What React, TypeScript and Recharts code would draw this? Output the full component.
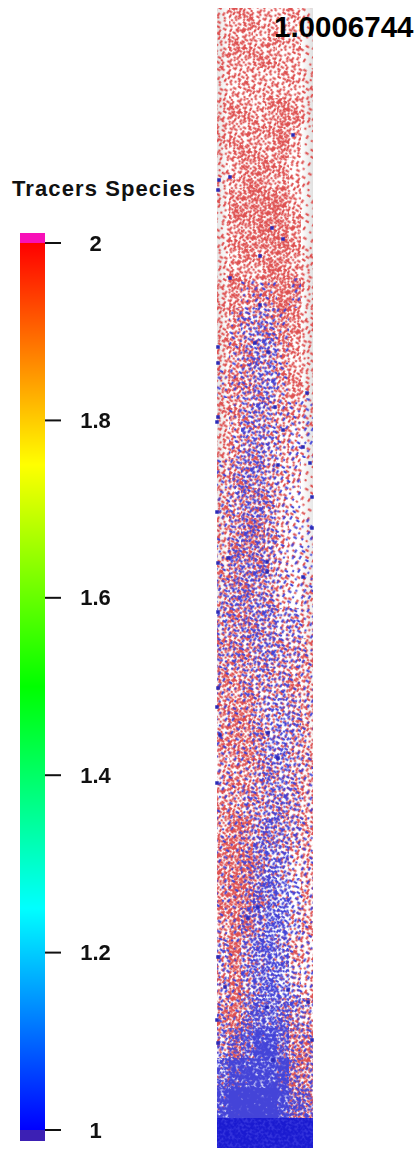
import React from 'react';
import { ScatterChart, Scatter, XAxis, YAxis, ReferenceArea } from 'recharts';

// colour bar
const tickValues = [1, 1.2, 1.4, 1.6, 1.8, 2];
const colourStopValues = [2, 1.75, 1.5, 1.25, 1];
const colourStopColours = ['#ff0000', '#ffff00', '#00ff00', '#00ffff', '#0000ff'];

// The tracers are too many and too blurred to read one by one, so the cloud is
// stored as an estimated density (0-9) per cell: 38 rows of 30px, 8 columns of 12px.
const redDensity = [
  [2, 4, 4, 3, 3, 3, 3, 1],
  [3, 4, 4, 4, 4, 3, 3, 1],
  [2, 3, 3, 3, 3, 3, 3, 2],
  [3, 4, 4, 3, 4, 6, 4, 2],
  [3, 4, 4, 4, 4, 5, 3, 1],
  [2, 3, 5, 5, 4, 4, 2, 1],
  [2, 5, 5, 6, 6, 5, 3, 1],
  [2, 4, 5, 5, 6, 6, 4, 1],
  [2, 4, 4, 4, 5, 5, 4, 2],
  [3, 5, 4, 4, 5, 6, 5, 2],
  [3, 4, 3, 3, 4, 5, 5, 2],
  [3, 4, 4, 3, 3, 4, 3, 2],
  [3, 4, 4, 3, 2, 4, 4, 2],
  [3, 4, 3, 3, 3, 3, 3, 2],
  [3, 3, 3, 3, 2, 3, 2, 1],
  [3, 4, 4, 3, 3, 2, 2, 1],
  [3, 3, 4, 4, 3, 2, 1, 1],
  [3, 4, 5, 5, 3, 2, 1, 1],
  [3, 4, 4, 4, 3, 2, 1, 1],
  [3, 4, 4, 3, 3, 2, 1, 2],
  [3, 4, 4, 3, 3, 2, 2, 2],
  [4, 4, 4, 3, 3, 3, 3, 3],
  [4, 4, 4, 3, 3, 3, 4, 3],
  [4, 5, 5, 3, 2, 2, 3, 3],
  [4, 5, 5, 4, 2, 2, 3, 3],
  [3, 4, 4, 4, 3, 2, 3, 3],
  [4, 4, 4, 3, 3, 3, 3, 3],
  [4, 6, 5, 3, 3, 3, 3, 3],
  [5, 6, 6, 4, 2, 2, 2, 3],
  [5, 6, 6, 4, 2, 1, 1, 3],
  [4, 6, 5, 3, 1, 1, 2, 3],
  [3, 6, 3, 2, 1, 2, 3, 2],
  [3, 6, 3, 2, 1, 1, 2, 2],
  [4, 6, 4, 2, 1, 3, 3, 3],
  [3, 6, 3, 1, 0, 3, 5, 5],
  [2, 3, 1, 0, 0, 3, 5, 5],
  [1, 1, 0, 0, 0, 1, 5, 4],
  [0, 0, 0, 0, 0, 0, 0, 0],
];
const blueDensity = [
  [0, 0, 0, 0, 0, 0, 0, 0],
  [0, 0, 0, 0, 0, 0, 0, 0],
  [0, 0, 0, 0, 0, 0, 0, 0],
  [0, 0, 0, 0, 0, 0, 0, 0],
  [0, 0, 0, 0, 0, 0, 0, 0],
  [0, 0, 0, 0, 0, 0, 0, 0],
  [0, 0, 0, 0, 0, 0, 0, 0],
  [0, 0, 0, 0, 0, 0, 0, 0],
  [0, 0, 0, 0, 0, 0, 0, 0],
  [0, 0, 1, 1, 1, 0, 1, 0],
  [0, 1, 2, 3, 2, 1, 0, 0],
  [0, 1, 2, 3, 3, 1, 0, 0],
  [1, 1, 2, 3, 3, 1, 0, 0],
  [0, 1, 2, 3, 2, 1, 1, 1],
  [0, 1, 3, 3, 2, 1, 1, 1],
  [1, 2, 3, 3, 2, 1, 1, 0],
  [1, 2, 3, 3, 2, 1, 1, 0],
  [1, 2, 3, 3, 2, 1, 1, 1],
  [1, 3, 3, 3, 2, 1, 1, 1],
  [2, 3, 3, 3, 2, 1, 1, 1],
  [2, 2, 3, 3, 3, 2, 2, 1],
  [2, 2, 2, 3, 3, 2, 2, 1],
  [1, 1, 2, 2, 2, 2, 1, 1],
  [1, 1, 1, 2, 2, 3, 2, 1],
  [1, 1, 1, 2, 3, 3, 2, 1],
  [1, 1, 1, 2, 3, 3, 2, 1],
  [1, 1, 2, 2, 3, 3, 2, 1],
  [1, 1, 2, 3, 4, 3, 2, 1],
  [1, 1, 2, 4, 4, 3, 1, 1],
  [1, 1, 2, 4, 5, 4, 2, 1],
  [1, 1, 3, 4, 5, 4, 2, 1],
  [2, 1, 3, 5, 6, 4, 1, 1],
  [2, 1, 3, 5, 6, 4, 2, 1],
  [2, 1, 4, 6, 6, 5, 3, 2],
  [3, 4, 6, 7, 7, 6, 2, 2],
  [6, 7, 7, 7, 7, 7, 3, 2],
  [7, 8, 8, 8, 8, 7, 5, 4],
  [9, 9, 9, 9, 9, 9, 9, 9],
];

// single tracers that stand out from the cloud, read as [x, y] in picture pixels
const blueSpecks = [
  [293, 135], [230, 177], [219, 180], [218, 190], [272, 228], [283, 239], [260, 256], [230, 278],
  [260, 305], [255, 343], [218, 347], [268, 352], [218, 363], [307, 393], [275, 407], [218, 417],
  [217, 422], [283, 430], [303, 447], [310, 463], [278, 465], [312, 497], [217, 512], [312, 528],
  [228, 558], [267, 562], [218, 563], [267, 572], [303, 577], [218, 612], [218, 688], [217, 707],
  [268, 733], [220, 735], [278, 758], [217, 783], [258, 907], [248, 918], [218, 957], [225, 987],
  [288, 990], [308, 1002], [267, 1007], [217, 1020], [312, 1040], [218, 1043], [273, 1060],
];

// dot layout of the stipple tile, six groups of 16 that thicken the texture
const stippleDots = [
  [2, 3], [15, 1], [26, 5], [39, 2], [5, 14], [17, 16], [30, 13], [42, 17], [1, 27], [13, 29], [27, 25], [37, 28], [7, 39], [20, 42], [31, 38], [44, 41],
  [8, 7], [21, 9], [33, 6], [46, 10], [11, 20], [24, 19], [35, 22], [47, 23], [6, 32], [18, 34], [29, 31], [41, 34], [3, 45], [14, 46], [26, 44], [38, 47],
  [12, 4], [23, 2], [35, 0], [45, 5], [0, 9], [14, 11], [28, 9], [39, 11], [9, 25], [21, 24], [32, 27], [44, 29], [10, 37], [24, 36], [35, 40], [47, 36],
  [5, 0], [18, 5], [30, 2], [42, 7], [4, 20], [19, 12], [33, 16], [45, 14], [16, 22], [26, 30], [38, 22], [2, 36], [12, 43], [22, 47], [33, 45], [43, 45],
  [9, 12], [24, 13], [37, 8], [47, 1], [1, 18], [13, 25], [29, 20], [41, 24], [7, 28], [20, 30], [35, 33], [46, 32], [5, 42], [17, 39], [28, 41], [40, 39],
  [10, 1], [21, 5], [32, 10], [43, 1], [7, 17], [20, 15], [27, 16], [38, 15], [3, 24], [23, 27], [34, 25], [47, 18], [14, 33], [29, 35], [42, 37], [0, 41],
];

const WIDTH = 415;
const HEIGHT = 1149;
const TILE = 48;
const COL_W = 12;
const ROW_H = 30;
const STRIP_LEFT = 217;
const STRIP_RIGHT = 313;
const STRIP_TOP = 8;
const STRIP_BOTTOM = 1148;
const FONT = '"Liberation Sans", Arial, sans-serif';

const RED = '#de5050';
const BLUE = '#4444d8';

const toCells = (rows: number[][]) =>
  rows.flatMap((row, r) =>
    row.map((level, c) => ({
      x: STRIP_LEFT + (c + 0.5) * COL_W,
      y: STRIP_TOP + (r + 0.5) * ROW_H,
      level,
    })),
  ).filter((cell) => cell.level > 0);

const redCells = toCells(redDensity);
const blueCells = toCells(blueDensity);
const speckPoints = blueSpecks.map(([x, y]) => ({ x, y }));
const tickPoints = tickValues.map((value) => ({ x: 0.5, value }));

const levelDots = (level: number) => stippleDots.slice(0, Math.min(level, 6) * 16);
const levelSize = (level: number, dot: number) => {
  if (level <= 6) return dot;
  if (level === 7) return 4.6;
  if (level === 8) return 6.2;
  return 3.6;
};
// dots wrap round the tile edge so no seam shows between tiles
const WRAPS = [[0, 0], [-TILE, 0], [0, -TILE], [-TILE, -TILE]];

const StipplePattern = ({ id, level, colour, angle, dot }: { id: string; level: number; colour: string; angle: number; dot: number }) => {
  const size = levelSize(level, dot);
  return (
    <pattern id={id} width={TILE} height={TILE} patternUnits="userSpaceOnUse" patternTransform={`rotate(${angle}) scale(0.6)`}>
      {WRAPS.map(([dx, dy]) =>
        levelDots(level).map(([x, y], i) => (
          <rect
            key={`${dx}-${dy}-${i}`}
            x={x + dx}
            y={y + dy}
            width={i % 3 === 0 ? size * 1.8 : size}
            height={i % 3 === 1 ? size * 1.8 : size}
            fill={level === 9 ? '#1a1ad0' : colour}
          />
        )),
      )}
    </pattern>
  );
};

const LEVELS = [1, 2, 3, 4, 5, 6, 7, 8, 9];

const cellShape = (prefix: string) => (props: any) => {
  const x = props.cx - COL_W / 2;
  const y = props.cy - ROW_H / 2;
  return (
    <g>
      {props.payload.level === 9 && <rect x={x} y={y} width={COL_W} height={ROW_H} fill="#3434dc" />}
      <rect x={x} y={y} width={COL_W} height={ROW_H} fill={`url(#${prefix}-${props.payload.level})`} />
    </g>
  );
};

const speckShape = (props: any) => (
  <rect x={props.cx - 1.75} y={props.cy - 1.75} width={3.5} height={3.5} fill="#2a2ab8" />
);

const TickLabel = ({ y, payload }: any) => (
  <text x={95.5} y={y + 7.5} textAnchor="middle" fontFamily={FONT} fontSize={22} fontWeight="bold" fill="#111">
    {String(payload.value)}
  </text>
);

const ColourBar = () => (
  <ScatterChart width={200} height={HEIGHT} margin={{ top: 233, right: 0, bottom: 8, left: 20 }}>
    <defs>
      <linearGradient id="rainbow" x1="0" y1="0" x2="0" y2="1">
        {colourStopValues.map((v, i) => (
          <stop key={v} offset={`${(2 - v) * 100}%`} stopColor={colourStopColours[i]} />
        ))}
      </linearGradient>
    </defs>
    <XAxis type="number" dataKey="x" domain={[0, 1]} hide />
    <YAxis
      type="number"
      dataKey="value"
      orientation="right"
      width={155}
      domain={[0.9876, 2.0113]}
      ticks={tickValues}
      interval={0}
      axisLine={false}
      tickSize={16}
      tickLine={{ stroke: '#111', strokeWidth: 2 }}
      tick={<TickLabel />}
    />
    <ReferenceArea x1={0} x2={1} y1={1} y2={2} fill="url(#rainbow)" fillOpacity={1} stroke="none" />
    <ReferenceArea x1={0} x2={1} y1={2} y2={2.0113} fill="#f810b8" fillOpacity={1} stroke="none" />
    <ReferenceArea x1={0} x2={1} y1={0.9876} y2={1} fill="#3c20b4" fillOpacity={1} stroke="none" />
    <Scatter data={tickPoints} shape={() => <g />} isAnimationActive={false} />
  </ScatterChart>
);

const TracerStrip = () => (
  <ScatterChart
    width={WIDTH}
    height={HEIGHT}
    margin={{ top: STRIP_TOP, right: WIDTH - STRIP_RIGHT, bottom: HEIGHT - STRIP_BOTTOM, left: STRIP_LEFT }}
  >
    <defs>
      <linearGradient id="wall" x1="0" y1="0" x2="1" y2="0">
        <stop offset="0%" stopColor="#e6e6e6" />
        <stop offset="12%" stopColor="#ffffff" />
        <stop offset="88%" stopColor="#ffffff" />
        <stop offset="100%" stopColor="#e0e0e0" />
      </linearGradient>
      <linearGradient id="wallFade" x1="0" y1="0" x2="0" y2="1">
        <stop offset="0%" stopColor="#ffffff" stopOpacity={0} />
        <stop offset="60%" stopColor="#ffffff" stopOpacity={1} />
      </linearGradient>
      {LEVELS.map((level) => (
        <StipplePattern key={`r${level}`} id={`red-${level}`} level={level} colour={RED} angle={31} dot={3.5} />
      ))}
      {LEVELS.map((level) => (
        <StipplePattern key={`b${level}`} id={`blue-${level}`} level={level} colour={BLUE} angle={-58} dot={3.4} />
      ))}
    </defs>
    <XAxis type="number" dataKey="x" domain={[STRIP_LEFT, STRIP_RIGHT]} hide />
    <YAxis type="number" dataKey="y" domain={[STRIP_TOP, STRIP_BOTTOM]} reversed hide />
    <ReferenceArea x1={STRIP_LEFT} x2={STRIP_RIGHT} y1={STRIP_TOP} y2={STRIP_BOTTOM} fill="url(#wall)" fillOpacity={1} stroke="none" />
    <ReferenceArea x1={STRIP_LEFT} x2={STRIP_RIGHT} y1={400} y2={STRIP_BOTTOM} fill="url(#wallFade)" fillOpacity={1} stroke="none" />
    <Scatter data={redCells} shape={cellShape('red')} isAnimationActive={false} />
    <Scatter data={blueCells} shape={cellShape('blue')} isAnimationActive={false} />
    <Scatter data={speckPoints} shape={speckShape} isAnimationActive={false} />
  </ScatterChart>
);

const App = () => (
  <div style={{ position: 'absolute', left: 0, top: 0, width: WIDTH, height: HEIGHT, background: '#fff', overflow: 'hidden' }}>
    <div style={{ position: 'absolute', left: 0, top: 0, filter: 'blur(0.3px)' }}>
      <TracerStrip />
    </div>
    <div style={{ position: 'absolute', left: 0, top: 0, filter: 'blur(0.3px)' }}>
      <ColourBar />
    </div>
    <div style={{ position: 'absolute', left: 12, top: 176, fontFamily: FONT, fontWeight: 'bold', fontSize: 22, letterSpacing: 1.1, color: '#111', whiteSpace: 'nowrap' }}>
      Tracers Species
    </div>
    <div style={{ position: 'absolute', left: 274, top: 10, fontFamily: FONT, fontWeight: 'bold', fontSize: 29.5, color: '#000', whiteSpace: 'nowrap' }}>
      1.0006744
    </div>
  </div>
);

export default App;
